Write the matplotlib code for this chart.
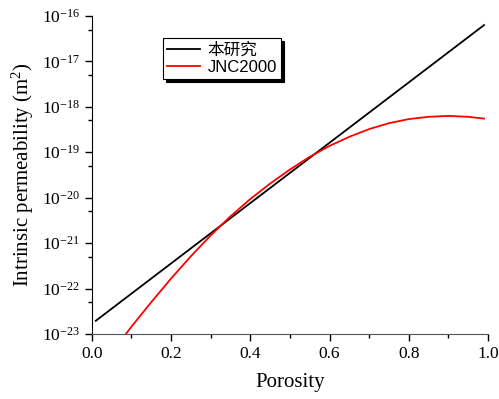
import matplotlib
matplotlib.use("Agg")
import matplotlib.pyplot as plt
import matplotlib.ticker as mticker

# Data
black_porosity = [0.01, 0.99]
black_perm = [1.95e-23, 6.3e-17]

red_porosity = [0.086, 0.10, 0.15, 0.20, 0.25, 0.30, 0.35, 0.40, 0.45, 0.50,
                0.55, 0.60, 0.65, 0.70, 0.75, 0.80, 0.85, 0.90, 0.95, 0.99]
red_log_perm = [-23.0, -22.84, -22.30, -21.78, -21.29, -20.83, -20.41, -20.03,
                -19.69, -19.38, -19.10, -18.86, -18.66, -18.49, -18.36, -18.27,
                -18.22, -18.20, -18.22, -18.26]

series_labels = ["本研究", "JNC2000"]
x_ticks = [0.0, 0.2, 0.4, 0.6, 0.8, 1.0]
y_exponents = [-23, -22, -21, -20, -19, -18, -17, -16]

plt.rcParams["mathtext.fontset"] = "custom"
plt.rcParams["mathtext.rm"] = "Liberation Serif"
plt.rcParams["mathtext.it"] = "Liberation Serif:italic"
plt.rcParams["mathtext.bf"] = "Liberation Serif:bold"

serif = ["Liberation Serif", "DejaVu Serif"]
legend_fonts = ["Liberation Sans", "Noto Sans CJK SC", "DejaVu Sans"]

fig = plt.figure(figsize=(4.99, 3.99), dpi=100)
ax = fig.add_axes([0.184, 0.163, 0.794, 0.797])

ax.plot(black_porosity, black_perm, color="black", lw=1.3, label=series_labels[0])
ax.plot(red_porosity, [10.0 ** v for v in red_log_perm], color="red", lw=1.3,
        label=series_labels[1])

ax.set_yscale("log")
ax.set_xlim(0, 1.0)
ax.set_ylim(1e-23, 1e-16)

ax.spines["top"].set_visible(False)
ax.spines["right"].set_visible(False)
ax.spines["bottom"].set_color("#555555")

ax.set_xticks(x_ticks)
ax.set_xticklabels([f"{v:.1f}" for v in x_ticks], family=serif, fontsize=12.5)
ax.xaxis.set_minor_locator(mticker.MultipleLocator(0.1))
ax.set_yticks([10.0 ** e for e in y_exponents])
ax.set_yticklabels([f"$\\mathregular{{10^{{{e}}}}}$" for e in y_exponents],
                   family=serif, fontsize=12.5)
ax.yaxis.set_minor_locator(mticker.LogLocator(base=10, subs=[5.0], numticks=20))
ax.yaxis.set_minor_formatter(mticker.NullFormatter())

ax.tick_params(which="major", direction="out", length=5, width=1)
ax.tick_params(which="minor", direction="out", length=3, width=1)

ax.set_xlabel("Porosity", family=serif, fontsize=15, labelpad=8)
ax.set_ylabel("Intrinsic permeability $\\mathregular{(m^2)}$", family=serif,
              fontsize=15, labelpad=4)

leg = ax.legend(loc="upper left", bbox_to_anchor=(0.179, 0.931), frameon=True,
                fancybox=False, shadow={"color": "black", "alpha": 1.0},
                prop={"family": legend_fonts, "size": 12},
                handlelength=2.0, borderpad=0.25, labelspacing=0.15,
                handletextpad=0.45, borderaxespad=0)
leg.get_frame().set_edgecolor("black")
leg.get_frame().set_linewidth(0.8)

fig.savefig("out.png", dpi=100)
